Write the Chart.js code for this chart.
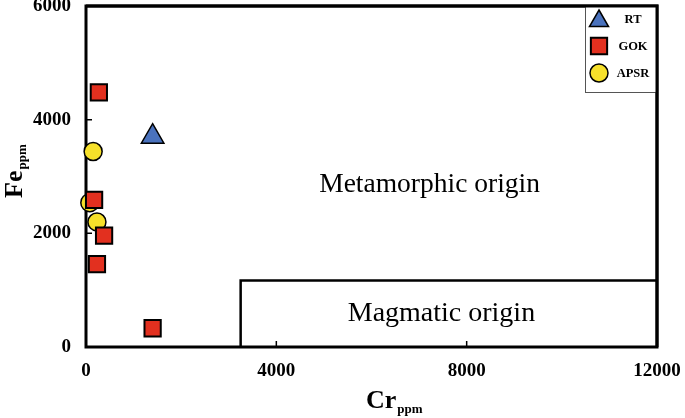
<!DOCTYPE html>
<html>
<head>
<meta charset="utf-8">
<script src="https://cdn.jsdelivr.net/npm/chart.js@4.4.0/dist/chart.umd.min.js"></script>
<style>
  html, body { margin: 0; padding: 0; background: #fff; }
  #wrap { width: 685px; height: 418px; }
</style>
</head>
<body>
<div id="wrap"><canvas id="myChart"></canvas></div>
<script>
// values (Cr ppm, Fe ppm)
const seriesNames = ["RT", "GOK", "APSR"];
const rtCr = [1400];
const rtFe = [3700];
const gokCr = [270, 170, 380, 230, 1400];
const gokFe = [4480, 2590, 1960, 1460, 330];
const apsrCr = [150, 80, 230];
const apsrFe = [3440, 2540, 2200];
const xTicks = [0, 4000, 8000, 12000];
const yTicks = [0, 2000, 4000, 6000];
// field boundary of the magmatic origin box
const magmaticCr = [3250, 12000];
const magmaticFe = 1170;

const serif = "'Liberation Serif', 'Times New Roman', serif";

function pts(xs, ys) {
  return xs.map((x, i) => ({ x: x, y: ys[i] }));
}

const data = {
  datasets: [
    {
      label: seriesNames[0],
      data: pts(rtCr, rtFe),
      pointStyle: "triangle",
      pointRadius: 13,
      backgroundColor: "#4a72bd",
      borderColor: "#000",
      borderWidth: 1.5,
    },
    {
      label: seriesNames[1],
      data: pts(gokCr, gokFe),
      pointStyle: "rect",
      pointRadius: 11.5,
      backgroundColor: "#e2301f",
      borderColor: "#000",
      borderWidth: 2,
    },
    {
      label: seriesNames[2],
      data: pts(apsrCr, apsrFe),
      pointStyle: "circle",
      pointRadius: 9,
      backgroundColor: "#f6e02a",
      borderColor: "#000",
      borderWidth: 1.5,
    },
  ],
};

// frame, inside ticks, field box, texts, legend, axis titles
const decor = {
  id: "decor",
  beforeDatasetsDraw(chart) {
    const ctx = chart.ctx;
    const a = chart.chartArea;
    const xs = chart.scales.x, ys = chart.scales.y;
    ctx.save();
    ctx.strokeStyle = "#000";
    ctx.lineWidth = 3;
    ctx.strokeRect(a.left, a.top, a.right - a.left, a.bottom - a.top);

    ctx.lineWidth = 1.5;
    ctx.beginPath();
    xTicks.forEach(v => {
      const p = xs.getPixelForValue(v);
      ctx.moveTo(p, a.bottom);
      ctx.lineTo(p, a.bottom - 6);
    });
    yTicks.forEach(v => {
      const p = ys.getPixelForValue(v);
      ctx.moveTo(a.left, p);
      ctx.lineTo(a.left + 6, p);
    });
    ctx.stroke();

    // magmatic field
    const l = xs.getPixelForValue(magmaticCr[0]);
    const r = xs.getPixelForValue(magmaticCr[1]);
    const t = ys.getPixelForValue(magmaticFe);
    ctx.lineWidth = 2.5;
    ctx.beginPath();
    ctx.moveTo(l, a.bottom);
    ctx.lineTo(l, t);
    ctx.lineTo(r, t);
    ctx.stroke();

    ctx.fillStyle = "#000";
    ctx.textAlign = "center";
    ctx.textBaseline = "alphabetic";
    ctx.font = "27.5px " + serif;
    ctx.fillText("Metamorphic origin", xs.getPixelForValue(7220), ys.getPixelForValue(2730));
    ctx.font = "28px " + serif;
    ctx.fillText("Magmatic origin", xs.getPixelForValue(7470), ys.getPixelForValue(450));
    ctx.restore();
  },
  afterDraw(chart) {
    const ctx = chart.ctx;
    const a = chart.chartArea;
    ctx.save();
    // legend box
    const bx = a.right - 72, by = a.top, bw = 72, bh = 86;
    ctx.fillStyle = "#fff";
    ctx.fillRect(bx, by, bw, bh);
    ctx.strokeStyle = "#555";
    ctx.lineWidth = 1;
    ctx.strokeRect(bx + 0.5, by + 0.5, bw, bh);
    ctx.strokeStyle = "#000";
    ctx.lineWidth = 3;
    ctx.beginPath();
    ctx.moveTo(a.left, a.top); ctx.lineTo(a.right, a.top); ctx.lineTo(a.right, a.bottom);
    ctx.stroke();
    chart.data.datasets.forEach((ds, i) => {
      const cy = by + 13 + i * 27;
      ctx.fillStyle = ds.backgroundColor;
      ctx.strokeStyle = ds.borderColor;
      ctx.lineWidth = ds.borderWidth;
      Chart.helpers.drawPoint(ctx, {
        pointStyle: ds.pointStyle,
        radius: ds.pointStyle === "triangle" ? 11 : ds.pointRadius,
        rotation: 0,
        borderWidth: ds.borderWidth,
      }, bx + 14, ds.pointStyle === "triangle" ? cy + 2 : cy);
      ctx.fillStyle = "#000";
      ctx.font = "bold 12.5px " + serif;
      ctx.textAlign = "center";
      ctx.textBaseline = "middle";
      ctx.fillText(ds.label, bx + 48, cy + 1);
    });

    // axis titles with subscripts
    ctx.fillStyle = "#000";
    ctx.textAlign = "left";
    ctx.textBaseline = "alphabetic";
    ctx.font = "bold 26px " + serif;
    const crW = ctx.measureText("Cr").width;
    const cx = 366;
    ctx.fillText("Cr", cx, 408);
    ctx.font = "bold 13px " + serif;
    ctx.fillText("ppm", cx + crW + 1, 413);

    ctx.translate(22, 198);
    ctx.rotate(-Math.PI / 2);
    ctx.font = "bold 26px " + serif;
    const feW = ctx.measureText("Fe").width;
    ctx.fillText("Fe", 0, 0);
    ctx.font = "bold 13px " + serif;
    ctx.fillText("ppm", feW + 1, 4);
    ctx.restore();
  },
};

const tickFont = { family: serif, size: 19, weight: "bold" };

const config = {
  type: "scatter",
  data: data,
  options: {
    responsive: true,
    maintainAspectRatio: false,
    animation: false,
    layout: { autoPadding: false, padding: { left: 0, top: 6, right: 28, bottom: 0 } },
    plugins: { legend: { display: false }, tooltip: { enabled: false } },
    datasets: { scatter: { clip: false } },
    scales: {
      x: {
        type: "linear",
        min: 0, max: 12000,
        afterBuildTicks: s => { s.ticks = xTicks.map(v => ({ value: v })); },
        afterFit: s => { s.height = 71; s.paddingLeft = 0; s.paddingRight = 0; },
        grid: { display: false },
        border: { display: false },
        ticks: {
          padding: 5,
          color: "#000",
          font: tickFont,
          callback: v => String(v),
        },
      },
      y: {
        type: "linear",
        min: 0, max: 6000,
        afterBuildTicks: s => { s.ticks = yTicks.map(v => ({ value: v })); },
        afterFit: s => { s.width = 86; s.paddingTop = 0; s.paddingBottom = 0; },
        grid: { display: false },
        border: { display: false },
        ticks: {
          padding: 7,
          color: "#000",
          font: tickFont,
          callback: v => String(v),
        },
      },
    },
  },
  plugins: [decor],
};

const myChart = new Chart(document.getElementById("myChart"), config);
</script>
</body>
</html>
